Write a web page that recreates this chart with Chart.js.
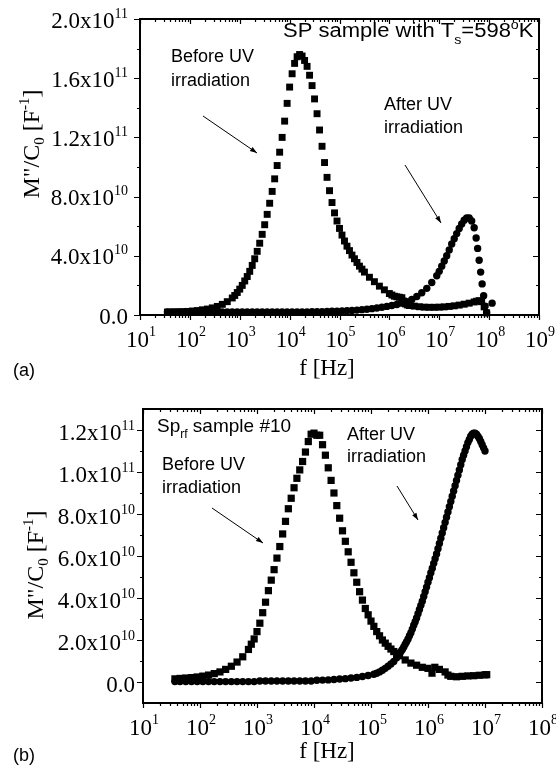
<!DOCTYPE html>
<html>
<head>
<meta charset="utf-8">
<script src="https://cdn.jsdelivr.net/npm/chart.js@4.4.1/dist/chart.umd.min.js"></script>
<style>
  html, body { margin: 0; padding: 0; background: #fff; }
  #wrap { position: relative; width: 556px; height: 772px; background: #fff; }
  canvas { position: absolute; left: 0; }
</style>
</head>
<body>
<div id="wrap">
  <canvas id="chartA" width="556" height="386" style="top:0"></canvas>
  <canvas id="chartB" width="556" height="386" style="top:386px"></canvas>
</div>
<script>
// [log10(f / Hz), M''/C0 in 1e10 F^-1]

// (a) SP sample, Ts = 598 K
const beforeA = [
  [1.55,0.2],[1.65,0.2],[1.75,0.21],[1.85,0.22],[1.95,0.24],[2.05,0.27],[2.15,0.3],[2.25,0.35],
  [2.35,0.4],[2.45,0.48],[2.55,0.58],[2.65,0.72],[2.75,0.9],[2.85,1.15],[2.9,1.32],[2.95,1.52],
  [3.0,1.75],[3.05,2.0],[3.1,2.3],[3.15,2.6],[3.2,2.95],[3.25,3.35],[3.3,3.8],[3.35,4.3],
  [3.4,4.85],[3.45,5.45],[3.5,6.1],[3.55,6.8],[3.6,7.55],[3.65,8.35],[3.7,9.2],[3.75,10.1],
  [3.8,11.0],[3.85,12.0],[3.9,13.1],[3.95,14.3],[4.0,15.4],[4.05,16.3],[4.1,17.0],[4.15,17.45],
  [4.2,17.6],[4.25,17.5],[4.3,17.2],[4.35,16.8],[4.4,16.2],[4.45,15.5],[4.5,14.6],[4.55,13.6],
  [4.6,12.5],[4.65,11.4],[4.7,10.3],[4.75,9.3],[4.8,8.4],[4.85,7.6],[4.9,6.9],[4.95,6.35],
  [5.0,5.85],[5.05,5.4],[5.1,5.0],[5.15,4.65],[5.2,4.35],[5.25,4.05],[5.3,3.8],[5.35,3.55],
  [5.4,3.3],[5.45,3.1],[5.5,2.9],[5.6,2.55],[5.7,2.25],[5.8,1.95],[5.9,1.7],[6.0,1.45],
  [6.05,1.35],[6.1,1.27],[6.15,1.23],[6.2,1.2],[6.25,1.17],[6.28,0.95],[6.32,0.75],[6.36,0.68],
  [6.4,0.64],[6.5,0.6],[6.6,0.56],[6.7,0.53],[6.8,0.52],[6.9,0.52],[7.0,0.53],[7.1,0.55],
  [7.2,0.58],[7.3,0.62],[7.4,0.67],[7.5,0.73],[7.6,0.8],[7.7,0.88],[7.75,0.93],[7.8,0.97],
  [7.85,0.9],[7.9,0.55],[7.95,0.15]
];
const afterA = [
  [1.55,0.2],[1.65,0.2],[1.75,0.2],[1.85,0.2],[1.95,0.2],[2.05,0.2],[2.15,0.2],[2.25,0.2],
  [2.35,0.2],[2.45,0.2],[2.55,0.2],[2.65,0.2],[2.75,0.2],[2.85,0.2],[2.95,0.2],[3.05,0.2],
  [3.15,0.2],[3.25,0.2],[3.35,0.2],[3.45,0.2],[3.55,0.2],[3.65,0.2],[3.75,0.2],[3.85,0.2],
  [3.95,0.2],[4.05,0.2],[4.15,0.2],[4.25,0.21],[4.35,0.21],[4.45,0.22],[4.55,0.22],[4.65,0.23],
  [4.75,0.24],[4.85,0.25],[4.95,0.26],[5.05,0.27],[5.15,0.29],[5.25,0.31],[5.35,0.33],[5.45,0.36],
  [5.55,0.39],[5.65,0.43],[5.75,0.47],[5.85,0.52],[5.95,0.58],[6.05,0.64],[6.15,0.71],[6.25,0.8],
  [6.35,0.9],[6.45,1.05],[6.55,1.25],[6.65,1.5],[6.75,1.8],[6.85,2.2],[6.95,2.65],[7.0,2.95],
  [7.05,3.3],[7.1,3.65],[7.15,4.0],[7.2,4.4],[7.25,4.8],[7.3,5.15],[7.35,5.5],[7.4,5.85],
  [7.45,6.15],[7.5,6.4],[7.55,6.55],[7.6,6.55],[7.65,6.35],[7.7,5.9],[7.74,5.2],[7.77,4.5],
  [7.8,3.7],[7.83,2.9],[7.86,2.1],[7.89,1.3],[7.92,0.6],[7.95,0.15],[8.06,0.8]
];

// (b) Sp_rf sample #10
const beforeB = [
  [1.56,0.15],[1.65,0.17],[1.75,0.19],[1.85,0.21],[1.95,0.24],[2.05,0.28],[2.15,0.33],[2.25,0.4],
  [2.35,0.48],[2.45,0.6],[2.55,0.75],[2.65,0.95],[2.75,1.2],[2.85,1.55],[2.9,1.8],[2.95,2.05],
  [3.0,2.4],[3.05,2.8],[3.1,3.3],[3.15,3.8],[3.2,4.35],[3.25,4.85],[3.3,5.35],[3.35,5.9],
  [3.4,6.45],[3.45,7.05],[3.5,7.65],[3.55,8.25],[3.6,8.75],[3.65,9.25],[3.7,9.7],[3.75,10.1],
  [3.8,10.5],[3.85,10.95],[3.9,11.45],[3.95,11.8],[4.0,11.85],[4.05,11.75],[4.1,11.75],[4.15,11.3],
  [4.2,10.8],[4.25,10.2],[4.3,9.6],[4.35,9.0],[4.4,8.4],[4.45,7.8],[4.5,7.2],[4.55,6.7],
  [4.6,6.2],[4.65,5.7],[4.7,5.2],[4.75,4.75],[4.8,4.3],[4.85,3.9],[4.9,3.5],[4.95,3.2],
  [5.0,2.9],[5.05,2.65],[5.1,2.4],[5.15,2.2],[5.2,2.0],[5.25,1.85],[5.3,1.7],[5.35,1.57],
  [5.4,1.45],[5.45,1.35],[5.5,1.25],[5.6,1.05],[5.7,0.9],[5.8,0.8],[5.9,0.7],[6.0,0.65],
  [6.07,0.42],[6.12,0.7],[6.2,0.6],[6.3,0.48],[6.35,0.33],[6.4,0.27],[6.5,0.25],[6.6,0.27],
  [6.7,0.29],[6.8,0.3],[6.9,0.32],[7.0,0.34],[7.03,0.35]
];
const afterB = [
  [1.56,0.02],[1.65,0.02],[1.75,0.02],[1.85,0.02],[1.95,0.02],[2.05,0.02],[2.15,0.02],[2.25,0.02],
  [2.35,0.02],[2.45,0.02],[2.55,0.02],[2.65,0.02],[2.75,0.02],[2.85,0.02],[2.95,0.02],[3.05,0.05],
  [3.15,0.05],[3.25,0.05],[3.35,0.05],[3.45,0.05],[3.55,0.05],[3.65,0.05],[3.75,0.05],[3.85,0.05],
  [3.95,0.05],[4.05,0.08],[4.15,0.09],[4.25,0.1],[4.35,0.12],[4.45,0.14],[4.55,0.16],[4.65,0.19],
  [4.75,0.22],[4.85,0.26],[4.95,0.31],[5.05,0.37],[5.1,0.42],[5.15,0.48],[5.2,0.56],[5.25,0.65],
  [5.3,0.75],[5.35,0.86],[5.4,0.98],[5.45,1.15],[5.5,1.35],[5.525,1.45],[5.55,1.55],[5.575,1.67],
  [5.6,1.8],[5.625,1.92],[5.65,2.05],[5.675,2.2],[5.7,2.35],[5.725,2.52],[5.75,2.7],[5.775,2.87],
  [5.8,3.05],[5.825,3.25],[5.85,3.45],[5.875,3.65],[5.9,3.85],[5.925,4.07],[5.95,4.3],[5.975,4.52],
  [6.0,4.75],[6.025,4.97],[6.05,5.2],[6.075,5.42],[6.1,5.65],[6.125,5.87],[6.15,6.1],[6.175,6.35],
  [6.2,6.6],[6.225,6.85],[6.25,7.1],[6.275,7.35],[6.3,7.6],[6.325,7.85],[6.35,8.1],[6.375,8.35],
  [6.4,8.6],[6.425,8.85],[6.45,9.1],[6.475,9.35],[6.5,9.6],[6.525,9.85],[6.55,10.1],[6.575,10.35],
  [6.6,10.6],[6.625,10.8],[6.65,11.0],[6.675,11.2],[6.7,11.4],[6.725,11.55],[6.75,11.7],[6.775,11.8],
  [6.8,11.85],[6.825,11.85],[6.85,11.8],[6.875,11.7],[6.9,11.6],[6.925,11.45],[6.95,11.3],[6.975,11.15],
  [7.0,11.0]
];

// axis ticks
const yTicksA = [0, 4e10, 8e10, 1.2e11, 1.6e11, 2e11];
const yMinorA = [2e10, 6e10, 1e11, 1.4e11, 1.8e11];
const yTicksB = [0, 2e10, 4e10, 6e10, 8e10, 1e11, 1.2e11];
const yMinorB = [1e10, 3e10, 5e10, 7e10, 9e10, 1.1e11];
const decadesA = [1, 2, 3, 4, 5, 6, 7, 8, 9];
const decadesB = [1, 2, 3, 4, 5, 6, 7, 8];

const SERIF = '"Liberation Serif", "Times New Roman", serif';
const SANS = '"Liberation Sans", Arial, sans-serif';
const serif = s => `${s}px ${SERIF}`;
const sans = s => `${s}px ${SANS}`;

function toPoints(series) {
  return series.map(p => ({ x: 10 ** p[0], y: p[1] * 1e10 }));
}

// draw a row of [text, font, dy] pieces starting at x (or ending/centred on it)
function drawRuns(ctx, runs, x, y, align) {
  let w = 0;
  runs.forEach(r => { ctx.font = r[1]; w += ctx.measureText(r[0]).width; });
  let cx = align === "right" ? x - w : align === "center" ? x - w / 2 : x;
  runs.forEach(r => {
    ctx.font = r[1];
    ctx.fillText(r[0], cx, y + (r[2] || 0));
    cx += ctx.measureText(r[0]).width;
  });
}

function sciLabel(v) {
  if (v === 0) return [["0.0", serif(23)]];
  const e = Math.floor(Math.log10(v) + 1e-9);
  return [[(v / 10 ** e).toFixed(1) + "x10", serif(23)], [String(e), serif(14), -10]];
}

function arrow(ctx, x0, y0, x1, y1) {
  const a = Math.atan2(y1 - y0, x1 - x0);
  ctx.lineWidth = 1;
  ctx.beginPath();
  ctx.moveTo(x0, y0);
  ctx.lineTo(x1, y1);
  ctx.stroke();
  ctx.beginPath();
  ctx.moveTo(x1, y1);
  ctx.lineTo(x1 - 7 * Math.cos(a) + 2.5 * Math.sin(a), y1 - 7 * Math.sin(a) - 2.5 * Math.cos(a));
  ctx.lineTo(x1 - 7 * Math.cos(a) - 2.5 * Math.sin(a), y1 - 7 * Math.sin(a) + 2.5 * Math.cos(a));
  ctx.closePath();
  ctx.fill();
}

function framePlugin(cfg) {
  return {
    id: "frame",
    afterDraw(chart) {
      const { ctx, chartArea: a, scales: { x, y } } = chart;
      ctx.save();
      ctx.fillStyle = "#000";
      ctx.strokeStyle = "#000";

      // tick marks: outward on left/bottom, inward on top/right
      ctx.lineWidth = 1.2;
      ctx.beginPath();
      const last = cfg.decades[cfg.decades.length - 1];
      cfg.decades.forEach(d => {
        for (let k = 1; k <= 9; k++) {
          if (d === last && k > 1) break;
          const px = Math.round(x.getPixelForValue(k * 10 ** d)) + 0.5;
          const len = k === 1 ? 5 : 3;
          ctx.moveTo(px, a.bottom); ctx.lineTo(px, a.bottom + len);
          ctx.moveTo(px, a.top); ctx.lineTo(px, a.top + len);
        }
      });
      const yTick = (v, len) => {
        const py = Math.round(y.getPixelForValue(v)) + 0.5;
        ctx.moveTo(a.left, py); ctx.lineTo(a.left - len, py);
        ctx.moveTo(a.right, py); ctx.lineTo(a.right - len, py);
      };
      cfg.yTicks.forEach(v => yTick(v, 6));
      cfg.yMinor.forEach(v => yTick(v, 3));
      ctx.stroke();

      ctx.lineWidth = 2;
      ctx.strokeRect(a.left, a.top, a.right - a.left, a.bottom - a.top);

      // tick labels
      ctx.textBaseline = "alphabetic";
      cfg.yTicks.forEach(v => {
        drawRuns(ctx, sciLabel(v), a.left - cfg.yLabelGap, y.getPixelForValue(v) + cfg.yLabelDy, "right");
      });
      cfg.decades.forEach(d => {
        drawRuns(ctx, [["10", serif(23)], [String(d), serif(14), -11]],
          x.getPixelForValue(10 ** d) + 1, a.bottom + 32, "center");
      });

      // axis titles
      drawRuns(ctx, [["f [Hz]", serif(23)]], cfg.xTitle[0], cfg.xTitle[1], "center");
      ctx.save();
      ctx.translate(cfg.yTitle[0], cfg.yTitle[1]);
      ctx.rotate(-Math.PI / 2);
      drawRuns(ctx, [['M"/C', serif(24)], ["0", serif(15), 5], [" [F", serif(24)], ["-1", serif(15), -10], ["]", serif(24)]], 0, 0, "center");
      ctx.restore();

      // panel letter, notes and arrows
      drawRuns(ctx, [[cfg.letter, sans(18)]], 13, cfg.letterY, "left");
      cfg.notes.forEach(n => {
        ctx.save();
        ctx.translate(n.x, n.y);
        ctx.scale(n.sx || 1, 1);
        drawRuns(ctx, n.runs, 0, 0, "left");
        ctx.restore();
      });
      cfg.arrows.forEach(p => arrow(ctx, p[0], p[1], p[2], p[3]));
      ctx.restore();
    }
  };
}

function makeChart(id, datasets, yMin, yMax, xMax, padding, deco) {
  return new Chart(document.getElementById(id), {
    type: "scatter",
    data: { datasets },
    options: {
      responsive: false,
      animation: false,
      events: [],
      layout: { padding },
      scales: {
        x: { type: "logarithmic", display: false, min: 10, max: xMax },
        y: { type: "linear", display: false, min: yMin, max: yMax }
      },
      plugins: { legend: { display: false }, tooltip: { enabled: false } }
    },
    plugins: [framePlugin(deco)]
  });
}

const squares = (data, r) => ({
  data: toPoints(data), showLine: false, clip: false,
  pointStyle: "rect", pointRadius: r, pointHoverRadius: r,
  pointBackgroundColor: "#000", pointBorderColor: "#000", pointBorderWidth: 0
});
const circles = (data, r) => ({
  data: toPoints(data), showLine: false, clip: false,
  pointStyle: "circle", pointRadius: r, pointHoverRadius: r,
  pointBackgroundColor: "#000", pointBorderColor: "#000", pointBorderWidth: 0
});

makeChart("chartA", [squares(beforeA, 4.9), circles(afterA, 3.7)], 0, 2e11, 1e9,
  { left: 140, right: 17, top: 19, bottom: 71 },
  {
    decades: decadesA, yTicks: yTicksA, yMinor: yMinorA,
    yLabelGap: 12, yLabelDy: 8.5,
    xTitle: [327, 375], yTitle: [39, 144],
    letter: "(a)", letterY: 376,
    notes: [
      { x: 283, y: 37, sx: 1.1, runs: [["SP sample with T", sans(20)], ["s", sans(13), 7], ["=598", sans(20)], ["o", sans(13), -8], ["K", sans(20)]] },
      { x: 171, y: 62, runs: [["Before UV", sans(18)]] },
      { x: 171, y: 86, runs: [["irradiation", sans(18)]] },
      { x: 384, y: 110, runs: [["After UV", sans(18)]] },
      { x: 384, y: 133, runs: [["irradiation", sans(18)]] }
    ],
    arrows: [[203, 116, 257, 153], [405, 165, 441, 223]]
  });

makeChart("chartB", [squares(beforeB, 5.1), circles(afterB, 3.7)], -1e10, 1.3e11, 1e8,
  { left: 143, right: 14, top: 23, bottom: 69 },
  {
    decades: decadesB, yTicks: yTicksB, yMinor: yMinorB,
    yLabelGap: 8, yLabelDy: 10,
    xTitle: [327, 372], yTitle: [43, 179],
    letter: "(b)", letterY: 375,
    notes: [
      { x: 157, y: 46, runs: [["Sp", sans(19)], ["rf", sans(12), 6], [" sample #10", sans(19)]] },
      { x: 162, y: 84, runs: [["Before UV", sans(18)]] },
      { x: 162, y: 107, runs: [["irradiation", sans(18)]] },
      { x: 347, y: 54, runs: [["After UV", sans(18)]] },
      { x: 347, y: 76, runs: [["irradiation", sans(18)]] }
    ],
    arrows: [[212, 122, 263, 157], [397, 100, 418, 134]]
  });
</script>
</body>
</html>
